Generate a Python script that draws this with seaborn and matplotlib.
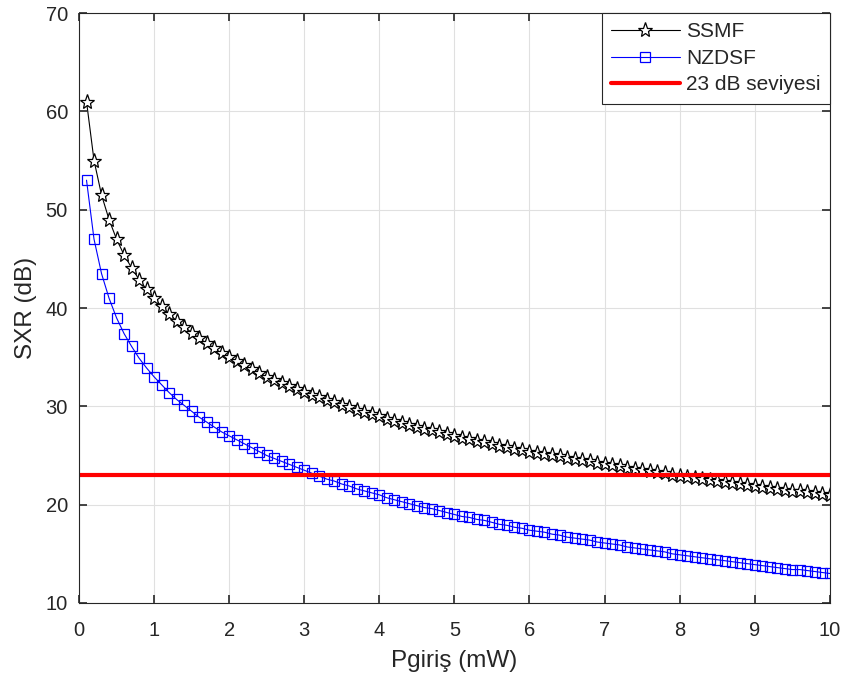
import matplotlib
matplotlib.use("Agg")
import matplotlib.pyplot as plt
import seaborn as sns
import numpy as np

p_in = [round(0.1 * i, 1) for i in range(1, 101)]
ssmf = [61.0, 55.0, 51.5, 49.0, 47.0, 45.4, 44.1, 42.9, 41.9, 41.0,
        40.2, 39.4, 38.7, 38.1, 37.5, 36.9, 36.4, 35.9, 35.4, 35.0,
        34.6, 34.2, 33.8, 33.4, 33.0, 32.7, 32.4, 32.1, 31.8, 31.5,
        31.2, 30.9, 30.6, 30.4, 30.1, 29.9, 29.6, 29.4, 29.2, 29.0,
        28.7, 28.5, 28.3, 28.1, 27.9, 27.7, 27.6, 27.4, 27.2, 27.0,
        26.8, 26.7, 26.5, 26.4, 26.2, 26.0, 25.9, 25.7, 25.6, 25.4,
        25.3, 25.2, 25.0, 24.9, 24.7, 24.6, 24.5, 24.4, 24.2, 24.1,
        24.0, 23.9, 23.7, 23.6, 23.5, 23.4, 23.3, 23.2, 23.0, 22.9,
        22.8, 22.7, 22.6, 22.5, 22.4, 22.3, 22.2, 22.1, 22.0, 21.9,
        21.8, 21.7, 21.6, 21.5, 21.4, 21.4, 21.3, 21.2, 21.1, 21.0]
nzdsf = [53.0, 47.0, 43.5, 41.0, 39.0, 37.4, 36.1, 34.9, 33.9, 33.0,
         32.2, 31.4, 30.7, 30.1, 29.5, 28.9, 28.4, 27.9, 27.4, 27.0,
         26.6, 26.2, 25.8, 25.4, 25.0, 24.7, 24.4, 24.1, 23.8, 23.5,
         23.2, 22.9, 22.6, 22.4, 22.1, 21.9, 21.6, 21.4, 21.2, 21.0,
         20.7, 20.5, 20.3, 20.1, 19.9, 19.7, 19.6, 19.4, 19.2, 19.0,
         18.8, 18.7, 18.5, 18.4, 18.2, 18.0, 17.9, 17.7, 17.6, 17.4,
         17.3, 17.2, 17.0, 16.9, 16.7, 16.6, 16.5, 16.4, 16.2, 16.1,
         16.0, 15.9, 15.7, 15.6, 15.5, 15.4, 15.3, 15.2, 15.0, 14.9,
         14.8, 14.7, 14.6, 14.5, 14.4, 14.3, 14.2, 14.1, 14.0, 13.9,
         13.8, 13.7, 13.6, 13.5, 13.4, 13.4, 13.3, 13.2, 13.1, 13.0]
level_x = [0, 10]
level_y = [23, 23]

x_ticks = list(range(0, 11))
y_ticks = [10, 20, 30, 40, 50, 60, 70]

sns.set_style("white")
plt.rcParams['font.family'] = ['Liberation Sans', 'DejaVu Sans']

fig = plt.figure(figsize=(8.45, 6.87), dpi=100)
ax = fig.add_axes([0.0935, 0.1223, 0.8885, 0.8587])

sns.lineplot(x=p_in, y=ssmf, ax=ax, color='black', lw=0.8, marker='*',
             markersize=11, markerfacecolor='white', markeredgecolor='black',
             markeredgewidth=0.9, label='SSMF')
sns.lineplot(x=p_in, y=nzdsf, ax=ax, color='#0000ff', lw=0.8, marker='s',
             markersize=7.5, markerfacecolor='none', markeredgecolor='#0000ff',
             markeredgewidth=0.9, label='NZDSF')
sns.lineplot(x=level_x, y=level_y, ax=ax, color='#ff0000', lw=3.0,
             label='23 dB seviyesi')

ax.set_xlim(0, 10)
ax.set_ylim(10, 70)
ax.set_xticks(x_ticks)
ax.set_yticks(y_ticks)
ax.grid(True, color='#e0e0e0', lw=0.8)
ax.set_axisbelow(True)
for s in ax.spines.values():
    s.set_color('#262626')
    s.set_linewidth(0.8)
ax.tick_params(direction='in', length=6, width=1.2, color='#262626',
               labelsize=14.5, labelcolor='#262626', top=True, right=True,
               bottom=True, left=True)
ax.tick_params(axis='x', pad=13)
ax.tick_params(axis='y', pad=8)
ax.set_xlabel('Pgiriş (mW)', fontsize=17.5, color='#262626', labelpad=7)
ax.set_ylabel('SXR (dB)', fontsize=17.5, color='#262626', labelpad=6)

leg = ax.legend(loc='upper right', fontsize=15, frameon=True, fancybox=False,
                borderaxespad=0.0, handlelength=3.3, borderpad=0.45,
                labelspacing=0.36, handletextpad=0.3)
leg.get_frame().set_edgecolor('#262626')
leg.get_frame().set_linewidth(0.8)
leg.get_frame().set_alpha(1.0)

fig.savefig('out.png', dpi=100)
